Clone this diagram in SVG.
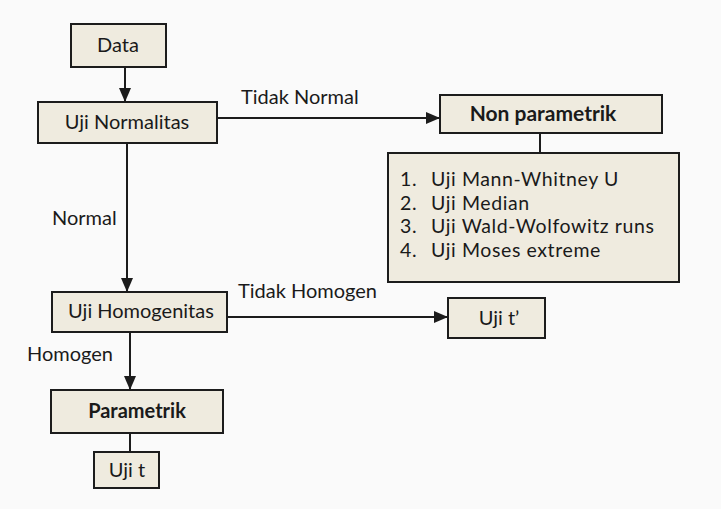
<svg xmlns="http://www.w3.org/2000/svg" width="721" height="509" viewBox="0 0 721 509">
<style>
.box{fill:#efebdf;stroke:#1c1c1c;stroke-width:2}
.t{font-family:Lato,"Open Sans","Liberation Sans",sans-serif;font-size:20px;fill:#1a1a1a}
.l{font-size:19.5px;letter-spacing:0.6px}
.b{font-weight:bold}
.nb{font-size:21px}
.c{text-anchor:middle}
.ln{stroke:#1c1c1c;stroke-width:2;fill:none}
</style>
<defs>
<marker id="ah" markerWidth="14" markerHeight="12" refX="14" refY="6" orient="auto" markerUnits="userSpaceOnUse">
<path d="M0,0 L14,6 L0,12 Z" fill="#1c1c1c"/>
</marker>
</defs>
<rect width="721" height="509" fill="#fafafa"/>
<g id="connectors">
<line class="ln" x1="125" y1="67" x2="125" y2="102" marker-end="url(#ah)"/>
<line class="ln" x1="127" y1="143" x2="127" y2="292" marker-end="url(#ah)"/>
<line class="ln" x1="217" y1="118" x2="440" y2="118" marker-end="url(#ah)"/>
<line class="ln" x1="540" y1="133" x2="540" y2="153"/>
<line class="ln" x1="227" y1="317" x2="448" y2="317" marker-end="url(#ah)"/>
<line class="ln" x1="130" y1="332" x2="130" y2="390" marker-end="url(#ah)"/>
<line class="ln" x1="130" y1="433" x2="130" y2="452"/>
<text class="t" x="241" y="104">Tidak Normal</text>
<text class="t" x="52" y="225">Normal</text>
<text class="t" x="238" y="298">Tidak Homogen</text>
<text class="t" x="27" y="361">Homogen</text>
</g>
<g id="data">
<rect class="box" x="71" y="24" width="95" height="43"/>
<text class="t c" x="118" y="52">Data</text>
</g>
<g id="uji-normalitas">
<rect class="box" x="38" y="102" width="179" height="41"/>
<text class="t c" x="127" y="129">Uji Normalitas</text>
</g>
<g id="non-parametrik">
<rect class="box" x="440" y="95" width="222" height="38"/>
<text class="t c b nb" x="543" y="121">Non parametrik</text>
</g>
<g id="daftar-nonparametrik">
<rect class="box" x="388" y="153" width="291" height="129"/>
<text class="t l"><tspan x="400" y="186">1.</tspan><tspan x="431">Uji Mann-Whitney U</tspan></text>
<text class="t l"><tspan x="400" y="209.5">2.</tspan><tspan x="431">Uji Median</tspan></text>
<text class="t l"><tspan x="400" y="233">3.</tspan><tspan x="431">Uji Wald-Wolfowitz runs</tspan></text>
<text class="t l"><tspan x="400" y="256.5">4.</tspan><tspan x="431">Uji Moses extreme</tspan></text>
</g>
<g id="uji-homogenitas">
<rect class="box" x="52" y="292" width="175" height="40"/>
<text class="t c" x="141" y="318">Uji Homogenitas</text>
</g>
<g id="uji-t-aksen">
<rect class="box" x="448" y="298" width="97" height="40"/>
<text class="t c" x="499" y="325">Uji t’</text>
</g>
<g id="parametrik">
<rect class="box" x="51" y="390" width="172" height="43"/>
<text class="t c b" x="137" y="418">Parametrik</text>
</g>
<g id="uji-t">
<rect class="box" x="94" y="452" width="65" height="36"/>
<text class="t c" x="127" y="477">Uji t</text>
</g>
</svg>
